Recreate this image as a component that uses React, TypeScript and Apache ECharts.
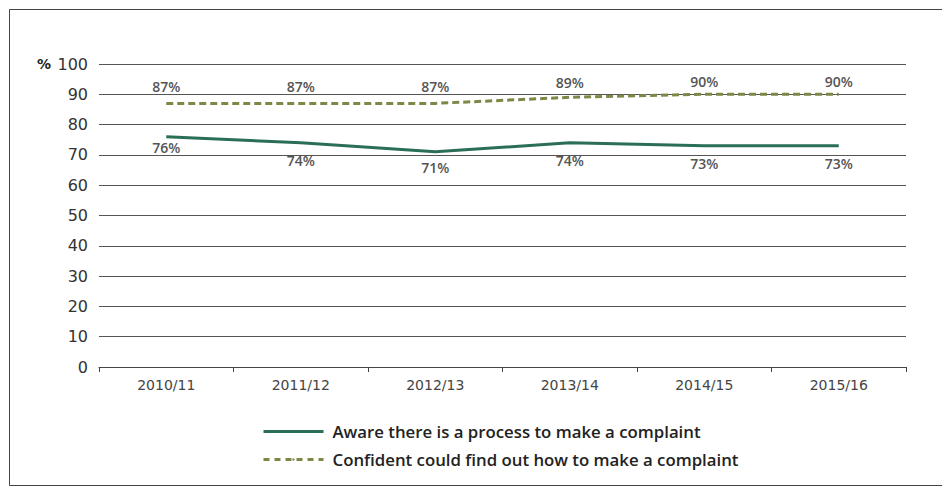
import React, { useEffect, useRef } from "react";
import * as echarts from "echarts";

const categories = ["2010/11", "2011/12", "2012/13", "2013/14", "2014/15", "2015/16"];
const awareValues = [76, 74, 71, 74, 73, 73];
const confidentValues = [87, 87, 87, 89, 90, 90];
const awareName = "Aware there is a process to make a complaint";
const confidentName = "Confident could find out how to make a complaint";
const awareLabelGaps = [4, 11, 9, 11, 11, 11];
const confidentLabelGaps = [10, 10, 10, 8, 6, 6];

export default function App() {
  const ref = useRef<HTMLDivElement>(null);
  useEffect(() => {
    if (!ref.current) return;
    const chart = echarts.init(ref.current, null, { renderer: "svg" });
    const labelStyle = {
      show: true,
      formatter: "{c}%",
      color: "#555",
      fontFamily: "Open Sans",
      fontWeight: 600,
      fontSize: 14,
    };
    chart.setOption({
      animation: false,
      backgroundColor: "#fff",
      grid: { left: 99, right: 36, top: 64, bottom: 122, containLabel: false },
      graphic: [
        {
          type: "rect",
          shape: { x: 9.5, y: 9.5, width: 1000, height: 476 },
          style: { fill: "none", stroke: "#444", lineWidth: 1 },
          silent: true,
        },
        {
          type: "text",
          x: 37,
          y: 64,
          style: {
            text: "%",
            fill: "#222",
            font: "bold 14px 'DejaVu Sans'",
            verticalAlign: "middle",
          },
        },
      ],
      legend: {
        orient: "vertical",
        left: 257,
        top: 418,
        itemWidth: 60,
        itemHeight: 3,
        itemGap: 11,
        textStyle: {
          fontFamily: "Open Sans",
          fontWeight: 600,
          fontSize: 16.8,
          color: "#222",
          padding: [0, 0, 0, 4],
        },
        data: [
          { name: awareName, icon: "rect" },
          { name: confidentName, lineStyle: { width: 3, type: [6, 5] } },
        ],
      },
      xAxis: {
        type: "category",
        data: categories,
        boundaryGap: true,
        axisLine: { lineStyle: { color: "#444", width: 1 } },
        axisTick: { show: true, length: 5, lineStyle: { color: "#444" } },
        axisLabel: {
          color: "#444",
          fontFamily: "DejaVu Sans",
          fontSize: 14,
          margin: 11,
        },
      },
      yAxis: {
        type: "value",
        min: 0,
        max: 100,
        interval: 10,
        axisLine: { show: false },
        axisTick: { show: false },
        axisLabel: {
          color: "#333",
          fontFamily: "DejaVu Sans",
          fontSize: 16,
          margin: 11,
        },
        splitLine: { lineStyle: { color: "#555", width: 1 } },
      },
      series: [
        {
          name: awareName,
          type: "line",
          data: awareValues.map((v, i) => ({
            value: v,
            label: { position: "bottom", distance: awareLabelGaps[i] },
          })),
          symbol: "circle",
          symbolSize: 0,
          showSymbol: true,
          color: "#2b6e56",
          lineStyle: { color: "#2b6e56", width: 3 },
          label: labelStyle,
        },
        {
          name: confidentName,
          type: "line",
          data: confidentValues.map((v, i) => ({
            value: v,
            label: { position: "top", distance: confidentLabelGaps[i] },
          })),
          symbol: "circle",
          symbolSize: 0,
          showSymbol: true,
          color: "#7d8746",
          lineStyle: { color: "#7d8746", width: 3, type: [7, 4] },
          label: labelStyle,
        },
      ],
    });
    return () => chart.dispose();
  }, []);
  return (
    <div
      ref={ref}
      style={{ position: "fixed", left: 0, top: 0, width: 942, height: 489 }}
    />
  );
}
